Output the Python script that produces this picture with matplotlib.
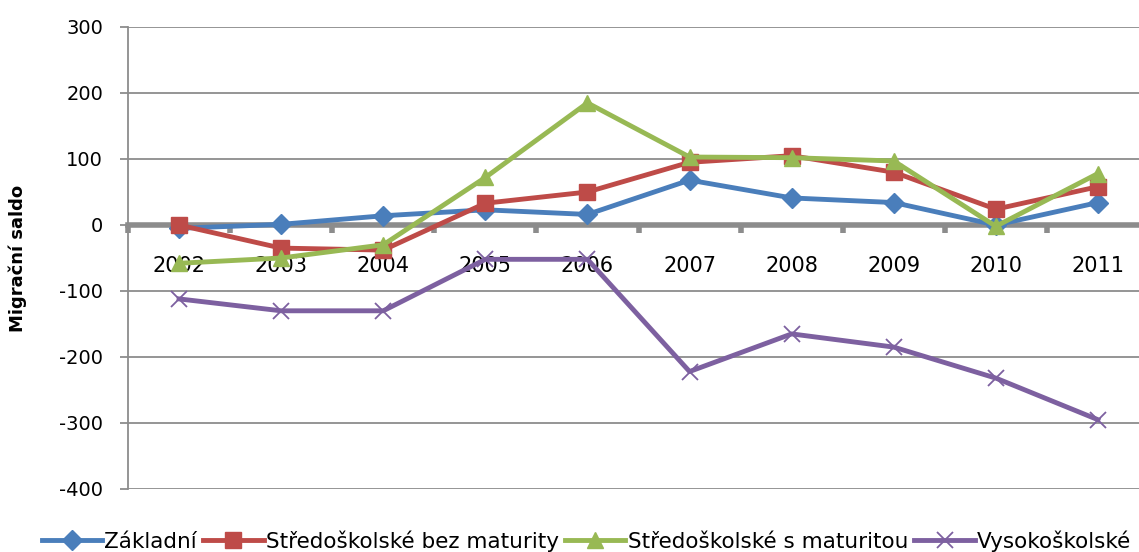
import numpy as np
import matplotlib.pyplot as plt

# --- data ---
years = ["2002", "2003", "2004", "2005", "2006", "2007", "2008", "2009", "2010", "2011"]
zakladni = [-5, 1, 14, 23, 16, 68, 41, 34, 0, 34]
stred_bez = [0, -35, -38, 33, 50, 95, 105, 80, 24, 58]
stred_s = [-58, -50, -30, 72, 185, 103, 102, 97, -2, 78]
vysoko = [-112, -130, -130, -52, -52, -222, -165, -185, -232, -295]

series = [
    ("Základní", zakladni, "#4A7EBB", "D", 10),
    ("Středoškolské bez maturity", stred_bez, "#BE4B48", "s", 11),
    ("Středoškolské s maturitou", stred_s, "#98B954", "^", 11),
    ("Vysokoškolské", vysoko, "#7D60A0", "x", 11),
]

plt.rcParams['font.family'] = ['DejaVu Sans']
plt.rcParams['axes.unicode_minus'] = False

fig = plt.figure(figsize=(11.39, 5.52), dpi=100)
ax = fig.add_axes([128 / 1139, 1 - 489 / 552, 1021 / 1139, 462 / 552])

x = np.arange(len(years))
for name, vals, color, marker, ms in series:
    if marker == "x":
        ax.plot(x, vals, color=color, lw=3.5, marker=marker, ms=ms, mew=1.3,
                label=name, zorder=3, clip_on=False)
    else:
        ax.plot(x, vals, color=color, lw=3.5, marker=marker, ms=ms,
                label=name, zorder=3, clip_on=False)

ax.set_xlim(-0.5, len(years) - 0.5)
ax.set_ylim(-400, 300)
ax.set_yticks(range(-400, 301, 100))
ax.yaxis.grid(True, color="#8c8c8c", lw=1.3)
ax.set_axisbelow(True)

for s in ["top", "right"]:
    ax.spines[s].set_visible(False)
ax.spines["left"].set_color("#8c8c8c")
ax.spines["left"].set_linewidth(1.3)
ax.spines["bottom"].set_position(("data", 0))
ax.spines["bottom"].set_color("#8c8c8c")
ax.spines["bottom"].set_linewidth(4)
ax.spines["bottom"].set_zorder(2)

ax.set_xticks(x)
ax.set_xticklabels(years, fontsize=15)
ax.tick_params(axis="x", which="major", length=0, pad=22)
ax.set_xticks(np.arange(-0.5, len(years), 1), minor=True)
ax.tick_params(axis="x", which="minor", length=6, width=4, color="#8c8c8c", direction="out")
ax.tick_params(axis="y", labelsize=14, length=6, width=1.3, color="#8c8c8c", pad=12)

fig.text(18 / 1139, 1 - 258 / 552, "Migrační saldo", rotation=90, fontsize=13,
         fontweight="bold", ha="center", va="center")

ax.legend(loc="center", bbox_to_anchor=(0.449, -0.113), ncol=4,
          frameon=False, fontsize=15.5, handlelength=2.8, handletextpad=0.1,
          columnspacing=0.3, borderaxespad=0)

fig.savefig("out.png", dpi=100)
